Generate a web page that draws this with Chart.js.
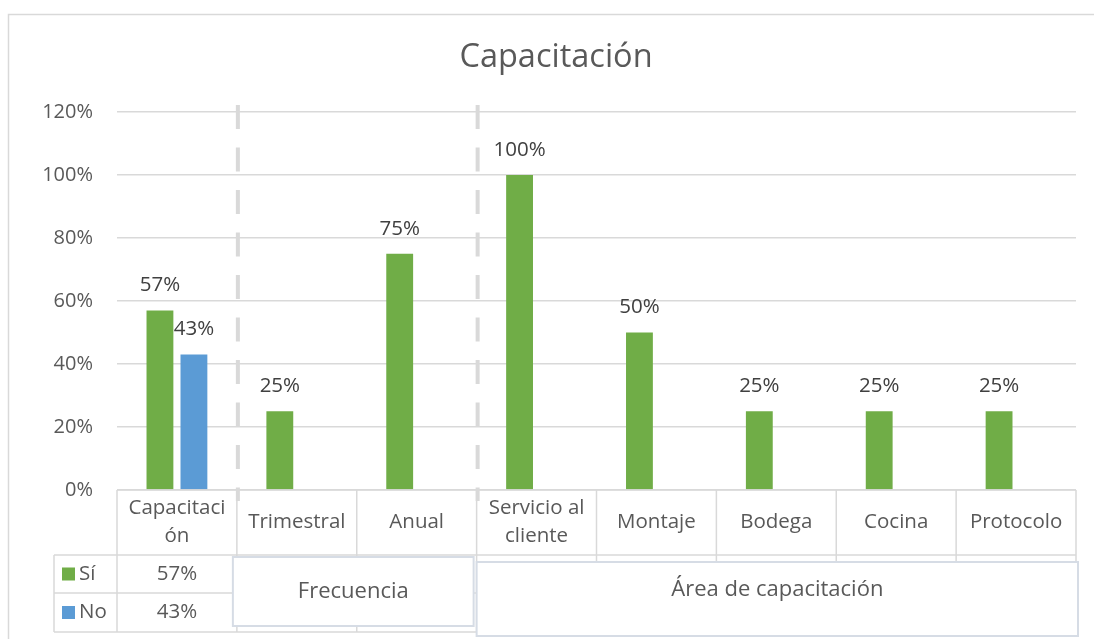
<!DOCTYPE html>
<html>
<head>
<meta charset="utf-8">
<script src="https://cdn.jsdelivr.net/npm/chart.js@4.4.0/dist/chart.umd.min.js"></script>
<style>
    html, body { margin: 0; padding: 0; background: #fff; }
    #wrap { width: 1094px; height: 639px; }
</style>
</head>
<body>
<div id="wrap"><canvas id="chart"></canvas></div>
<script>
// Chart data
const categories = [['Capacitaci', 'ón'], 'Trimestral', 'Anual', ['Servicio al', 'cliente'], 'Montaje', 'Bodega', 'Cocina', 'Protocolo'];
const siValues = [57, 25, 75, 100, 50, 25, 25, 25];
const noValues = [43, null, null, null, null, null, null, null];
const yTicks = [0, 20, 40, 60, 80, 100, 120];
const groupLabels = ['Frecuencia', 'Área de capacitación'];

const FONT = '"Open Sans", Lato, sans-serif';
const GRID = '#d9d9d9';

// Frame, data table, group boxes and dashed separators
const tablePlugin = {
    id: 'tablePlugin',
    beforeDraw(chart) {
        const ctx = chart.ctx;
        ctx.save();
        ctx.fillStyle = '#fff';
        ctx.fillRect(0, 0, chart.width, chart.height);
        ctx.strokeStyle = GRID;
        ctx.lineWidth = 1.5;
        ctx.beginPath();
        ctx.moveTo(8.5, chart.height);
        ctx.lineTo(8.5, 14.5);
        ctx.lineTo(chart.width, 14.5);
        ctx.stroke();
        ctx.restore();
    },
    afterDraw(chart) {
        const ctx = chart.ctx;
        const area = chart.chartArea;
        const x = chart.scales.x;
        const n = categories.length;
        const step = (area.right - area.left) / n;
        const edge = i => area.left + i * step;
        const top = area.bottom;
        const catBottom = top + 65;
        const row1 = catBottom + 38;
        const row2 = row1 + 39;
        const legendLeft = 54;

        ctx.save();
        ctx.strokeStyle = GRID;
        ctx.lineWidth = 1.5;
        ctx.beginPath();
        ctx.moveTo(area.left, top); ctx.lineTo(area.right, top);
        [catBottom, row1, row2].forEach(y => {
            ctx.moveTo(legendLeft, y); ctx.lineTo(area.right, y);
        });
        for (let i = 0; i <= n; i++) {
            ctx.moveTo(edge(i), top); ctx.lineTo(edge(i), row2);
        }
        ctx.moveTo(legendLeft, catBottom); ctx.lineTo(legendLeft, row2);
        ctx.stroke();

        // category labels
        ctx.fillStyle = '#595959';
        ctx.font = '20.5px ' + FONT;
        ctx.textAlign = 'center';
        ctx.textBaseline = 'middle';
        categories.forEach((c, i) => {
            const cx = x.getPixelForValue(i);
            const lines = Array.isArray(c) ? c : [c];
            const mid = (top + catBottom) / 2;
            lines.forEach((l, j) => {
                ctx.fillText(l, cx, mid + (j - (lines.length - 1) / 2) * 28);
            });
        });

        // values rows
        const rows = [
            { label: 'Sí', color: '#70AD47', values: siValues, y: (catBottom + row1) / 2 },
            { label: 'No', color: '#5B9BD5', values: noValues, y: (row1 + row2) / 2 }
        ];
        rows.forEach(r => {
            ctx.fillStyle = r.color;
            ctx.fillRect(62, r.y - 6.5, 13, 13);
            ctx.fillStyle = '#595959';
            ctx.textAlign = 'left';
            ctx.fillText(r.label, 79, r.y);
            ctx.textAlign = 'center';
            r.values.forEach((v, i) => {
                if (v !== null) ctx.fillText(v + '%', x.getPixelForValue(i), r.y);
            });
        });

        // group text boxes
        const boxes = [
            { text: groupLabels[0], x1: edge(1) - 4, x2: edge(3) - 3, y1: catBottom + 2, y2: row2 - 6, dy: 0 },
            { text: groupLabels[1], x1: edge(3), x2: edge(8) + 2, y1: catBottom + 7, y2: row2 + 4, dy: -9 }
        ];
        boxes.forEach(b => {
            ctx.fillStyle = '#fff';
            ctx.fillRect(b.x1, b.y1, b.x2 - b.x1, b.y2 - b.y1);
            ctx.strokeStyle = '#d6dce5';
            ctx.lineWidth = 2;
            ctx.strokeRect(b.x1, b.y1, b.x2 - b.x1, b.y2 - b.y1);
            ctx.fillStyle = '#595959';
            ctx.font = '22px ' + FONT;
            ctx.fillText(b.text, (b.x1 + b.x2) / 2, (b.y1 + b.y2) / 2 + b.dy);
        });

        // dashed separators
        ctx.strokeStyle = GRID;
        ctx.lineWidth = 4;
        ctx.setLineDash([24, 18.5]);
        [1, 3].forEach(i => {
            const sx = edge(i) + 1;
            ctx.beginPath();
            ctx.moveTo(sx, area.top - 7);
            ctx.lineTo(sx, top + 11);
            ctx.stroke();
        });
        ctx.restore();
    }
};

// Value labels above bars
const labelPlugin = {
    id: 'labelPlugin',
    afterDatasetsDraw(chart) {
        const ctx = chart.ctx;
        ctx.save();
        ctx.fillStyle = '#404040';
        ctx.font = '20.5px ' + FONT;
        ctx.textAlign = 'center';
        ctx.textBaseline = 'middle';
        chart.data.datasets.forEach((ds, di) => {
            chart.getDatasetMeta(di).data.forEach((bar, i) => {
                const v = ds.data[i];
                if (v === null) return;
                ctx.fillText(v + '%', bar.x, bar.y - 25);
            });
        });
        ctx.restore();
    }
};

new Chart(document.getElementById('chart'), {
    type: 'bar',
    data: {
        labels: categories,
        datasets: [
            { label: 'Sí', data: siValues, backgroundColor: '#70AD47' },
            { label: 'No', data: noValues, backgroundColor: '#5B9BD5' }
        ]
    },
    options: {
        responsive: true,
        maintainAspectRatio: false,
        animation: false,
        events: [],
        layout: { padding: { left: 36, right: 18, top: 0, bottom: 149 } },
        datasets: { bar: { categoryPercentage: 0.567, barPercentage: 0.79 } },
        plugins: {
            legend: { display: false },
            tooltip: { enabled: false },
            title: {
                display: true,
                text: 'Capacitación',
                color: '#595959',
                font: { family: FONT, size: 32.5, weight: 'normal' },
                padding: { top: 38.5, bottom: 34.5 }
            }
        },
        scales: {
            x: {
                display: false
            },
            y: {
                min: 0,
                max: 120,
                afterFit: s => { s.width = 81; },
                afterBuildTicks: s => { s.ticks = yTicks.map(v => ({ value: v })); },
                ticks: {
                    padding: 24,
                    color: '#595959',
                    font: { family: FONT, size: 20 },
                    callback: v => v + '%'
                },
                grid: { color: GRID, lineWidth: 1.5, drawTicks: false },
                border: { display: false }
            }
        }
    },
    plugins: [tablePlugin, labelPlugin]
});
</script>
</body>
</html>
